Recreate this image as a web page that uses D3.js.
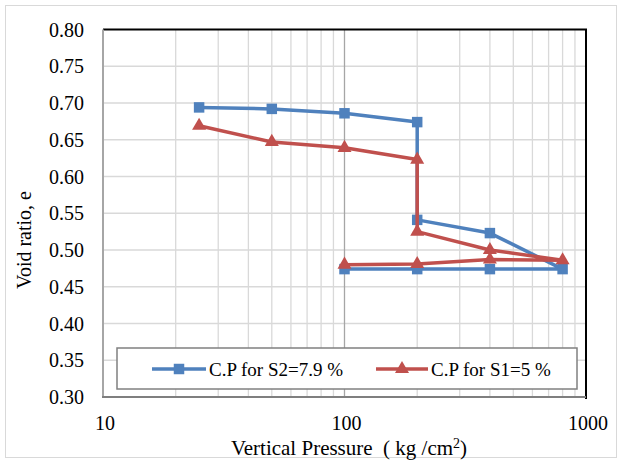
<!DOCTYPE html>
<html>
<head>
<meta charset="utf-8">
<script src="https://cdn.jsdelivr.net/npm/d3@7"></script>
<style>
  body { margin: 0; background: #fff; }
</style>
</head>
<body>
<script>
// vertical pressure steps (loading then unloading)
const pressure = [25, 50, 100, 200, 200, 400, 800, 400, 200, 100];
// void ratio for each series
const voidS2 = [0.694, 0.692, 0.686, 0.674, 0.541, 0.523, 0.474, 0.474, 0.474, 0.474];
const voidS1 = [0.669, 0.647, 0.639, 0.623, 0.525, 0.500, 0.486, 0.487, 0.481, 0.480];
const seriesNames = ['C.P for S2=7.9 %', 'C.P for S1=5 %'];
const yTicks = [0.30, 0.35, 0.40, 0.45, 0.50, 0.55, 0.60, 0.65, 0.70, 0.75, 0.80];
const xTicks = [10, 100, 1000];

const FONT = '"Liberation Serif", "DejaVu Serif", "Times New Roman", serif';

const render = () => {
  const width = 622;
  const height = 463;
  const margin = { top: 29.5, right: 36, bottom: 66, left: 103 };
  const plotRight = width - margin.right;
  const plotBottom = height - margin.bottom;

  const blue = '#4f81bd';
  const red = '#c0504d';

  const svg = d3.select('body').append('svg')
    .attr('width', width)
    .attr('height', height)
    .attr('font-family', FONT)
    .style('font-family', FONT);

  // outer chart frame
  svg.append('rect')
    .attr('x', 5.5).attr('y', 5.5)
    .attr('width', 611).attr('height', 452)
    .attr('fill', '#fff')
    .attr('stroke', '#d9d9d9');

  const xScale = d3.scaleLog().domain([10, 1000]).range([margin.left, plotRight]);
  const yScale = d3.scaleLinear().domain([0.3, 0.8]).range([plotBottom, margin.top]);

  // minor vertical grid lines
  const minor = [];
  [10, 100].forEach(d => { for (let k = 2; k <= 9; k++) minor.push(d * k); });
  svg.append('g').selectAll('line').data(minor)
    .enter().append('line')
    .attr('x1', d => xScale(d)).attr('x2', d => xScale(d))
    .attr('y1', margin.top).attr('y2', plotBottom)
    .attr('stroke', '#d9d9d9').attr('stroke-width', 1.3);

  // horizontal grid lines
  svg.append('g').selectAll('line').data(yTicks.slice(1, -1))
    .enter().append('line')
    .attr('x1', margin.left).attr('x2', plotRight)
    .attr('y1', d => yScale(d)).attr('y2', d => yScale(d))
    .attr('stroke', '#d9d9d9').attr('stroke-width', 1.3);

  // major line at 100
  svg.append('line')
    .attr('x1', xScale(100)).attr('x2', xScale(100))
    .attr('y1', margin.top).attr('y2', plotBottom)
    .attr('stroke', '#a6a6a6').attr('stroke-width', 1.3);

  // plot border: top and right black
  svg.append('path')
    .attr('d', `M${margin.left},${margin.top}H${plotRight}V${plotBottom + 2}`)
    .attr('fill', 'none').attr('stroke', '#000').attr('stroke-width', 2);

  // axes lines
  svg.append('line')
    .attr('x1', margin.left).attr('x2', margin.left)
    .attr('y1', margin.top).attr('y2', plotBottom)
    .attr('stroke', '#a6a6a6').attr('stroke-width', 2);
  svg.append('line')
    .attr('x1', margin.left - 1).attr('x2', plotRight)
    .attr('y1', plotBottom).attr('y2', plotBottom)
    .attr('stroke', '#7f7f7f').attr('stroke-width', 2);

  // y tick labels
  svg.append('g').selectAll('text').data(yTicks)
    .enter().append('text')
    .attr('x', 84)
    .attr('y', d => yScale(d))
    .attr('dy', '0.35em')
    .attr('text-anchor', 'end')
    .attr('font-family', FONT)
    .style('font-size', '20px')
    .text(d => d.toFixed(2));

  // x tick labels
  svg.append('g').selectAll('text').data(xTicks)
    .enter().append('text')
    .attr('x', d => xScale(d) + 2)
    .attr('y', 430)
    .attr('text-anchor', 'middle')
    .attr('font-family', FONT)
    .style('font-size', '20px')
    .text(d => d);

  // axis titles
  svg.append('text')
    .attr('transform', 'translate(31, 240) rotate(-90)')
    .attr('text-anchor', 'middle')
    .attr('font-family', FONT)
    .style('font-size', '20px')
    .text('Void ratio, e');

  const xt = svg.append('text')
    .attr('x', 349).attr('y', 455)
    .attr('text-anchor', 'middle')
    .attr('font-family', FONT)
    .style('font-size', '21px');
  xt.append('tspan').text('Vertical Pressure\u00a0\u00a0( kg /cm');
  xt.append('tspan').attr('dy', -7).style('font-size', '14px').text('2');
  xt.append('tspan').attr('dy', 7).text(')');

  // series
  const line = d3.line()
    .x((d, i) => xScale(pressure[i]))
    .y(d => yScale(d));

  const series = [
    { name: seriesNames[0], values: voidS2, color: blue, symbol: d3.symbolSquare, size: 110 },
    { name: seriesNames[1], values: voidS1, color: red, symbol: d3.symbolTriangle, size: 85 }
  ];

  series.forEach(s => {
    svg.append('path')
      .attr('d', line(s.values))
      .attr('fill', 'none')
      .attr('stroke', s.color)
      .attr('stroke-width', 3.5)
      .attr('stroke-linejoin', 'round');
    svg.append('g').selectAll('path').data(s.values)
      .enter().append('path')
      .attr('transform', (d, i) => `translate(${xScale(pressure[i])},${yScale(d)})`)
      .attr('d', d3.symbol().type(s.symbol).size(s.size))
      .attr('fill', s.color);
  });

  // legend
  svg.append('rect')
    .attr('x', 117).attr('y', 348)
    .attr('width', 460).attr('height', 41)
    .attr('fill', '#fff')
    .attr('stroke', '#808080').attr('stroke-width', 1.5);

  const legendPos = [{ x0: 152, x1: 206 }, { x0: 376, x1: 428 }];
  series.forEach((s, i) => {
    const p = legendPos[i];
    const cy = 369;
    svg.append('line')
      .attr('x1', p.x0).attr('x2', p.x1)
      .attr('y1', cy).attr('y2', cy)
      .attr('stroke', s.color).attr('stroke-width', 3.5);
    svg.append('path')
      .attr('transform', `translate(${(p.x0 + p.x1) / 2},${cy})`)
      .attr('d', d3.symbol().type(s.symbol).size(s.size))
      .attr('fill', s.color);
    svg.append('text')
      .attr('x', p.x1 + 3).attr('y', cy)
      .attr('dy', '0.35em')
      .attr('font-family', FONT)
      .style('font-size', '19px')
      .text(s.name);
  });
};

render();
</script>
</body>
</html>
